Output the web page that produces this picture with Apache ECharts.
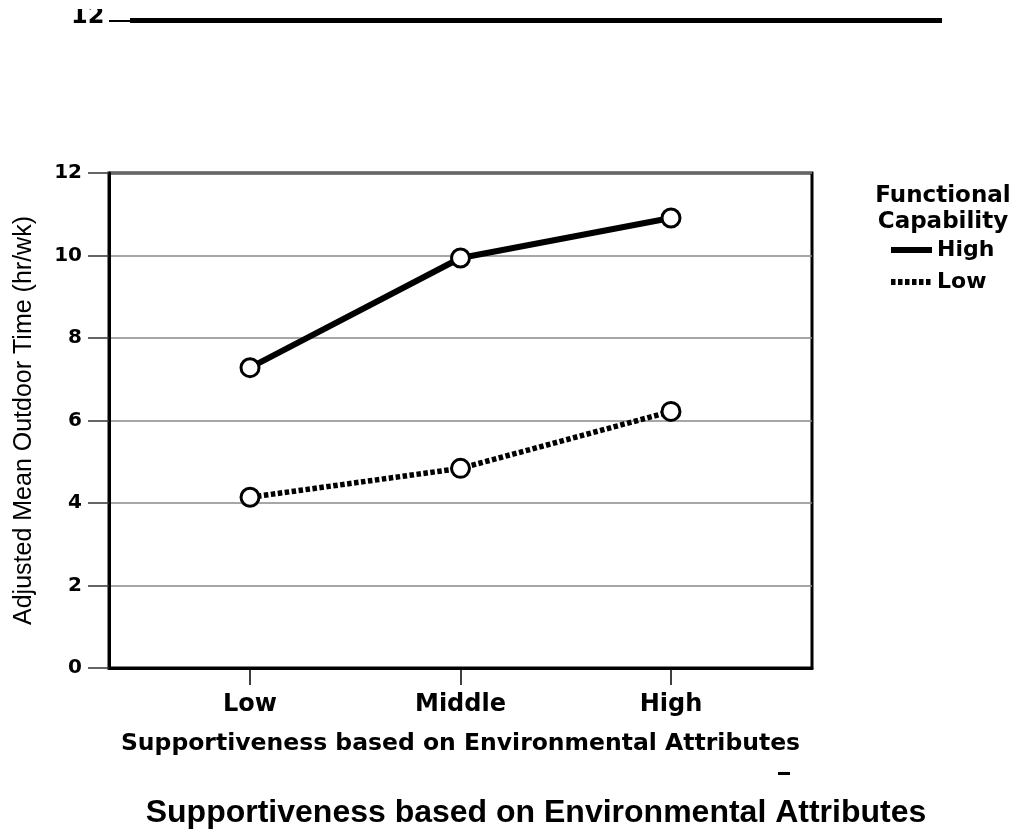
<!DOCTYPE html>
<html>
<head>
<meta charset="utf-8">
<script src="https://cdn.jsdelivr.net/npm/echarts@6/dist/echarts.min.js"></script>
<style>html,body{margin:0;padding:0;background:#fff;}#c{width:1016px;height:835px;}</style>
</head>
<body>
<div id="c"></div>
<script>
const categories = ['Low', 'Middle', 'High'];
const seriesNames = ['High', 'Low'];
const highValues = [7.28, 9.94, 10.91];
const lowValues = [4.14, 4.84, 6.22];
const yMin = 0, yMax = 12, yStep = 2;
const yAxisTitle = 'Adjusted Mean Outdoor Time (hr/wk)';
const xAxisTitle = 'Supportiveness based on Environmental Attributes';
const legendTitle = 'Functional\nCapability';
const bottomTitle = 'Supportiveness based on Environmental Attributes';
const topFragmentLabel = '12';

const ARIAL = 'Liberation Sans, Arial, sans-serif';
const WIDE = 'DejaVu Sans, Verdana, sans-serif';
const chart = echarts.init(document.getElementById('c'), null, {renderer: 'canvas'});
const catIdx = categories.map((c, i) => i);
const toPts = arr => arr.map((v, i) => [i, v]);
const markerStyle = {color: '#fff', borderColor: '#000', borderWidth: 3};

chart.setOption({
  backgroundColor: '#fff',
  animation: false,
  grid: {left: 109, right: 204, top: 173, bottom: 167, show: true, borderColor: '#000', borderWidth: 3, backgroundColor: 'transparent'},
  xAxis: {
    type: 'value', min: -0.67, max: 2.67,
    name: xAxisTitle, nameLocation: 'middle', nameGap: 64,
    nameTextStyle: {fontFamily: WIDE, fontSize: 23.5, fontWeight: 'bold', color: '#000'},
    axisLine: {show: true, onZero: false, lineStyle: {color: '#000', width: 3}},
    axisTick: {show: true, customValues: catIdx, length: 17, lineStyle: {color: '#000', width: 1.5}},
    axisLabel: {customValues: catIdx, formatter: v => categories[Math.round(v)] || '', margin: 25,
      fontFamily: WIDE, fontSize: 24, fontWeight: 'bold', color: '#000'},
    splitLine: {show: false}
  },
  yAxis: {
    type: 'value', min: yMin, max: yMax, interval: yStep,
    name: yAxisTitle, nameLocation: 'middle', nameGap: 72, nameRotate: 90,
    nameTextStyle: {fontFamily: ARIAL, fontSize: 25, color: '#000'},
    axisLine: {show: true, onZero: false, lineStyle: {color: '#000', width: 3}},
    axisTick: {show: true, length: 21, lineStyle: {color: '#333', width: 1.5}},
    axisLabel: {margin: 27, fontFamily: WIDE, fontSize: 20, fontWeight: 'bold', color: '#000'},
    splitLine: {show: true, lineStyle: {color: '#888', width: 1.5}}
  },
  legend: {
    orient: 'vertical', left: 888, top: 238, padding: 0,
    itemWidth: 41, itemHeight: 14, itemGap: 8,
    textStyle: {fontFamily: WIDE, fontSize: 22, fontWeight: 'bold', color: '#000', lineHeight: 24},
    itemStyle: {opacity: 0},
    lineStyle: {width: 6},
    data: seriesNames
  },
  series: [
    {name: seriesNames[0], type: 'line', data: toPts(highValues), symbol: 'circle', symbolSize: 18,
      itemStyle: markerStyle, lineStyle: {color: '#000', width: 6}, z: 3},
    {name: seriesNames[1], type: 'line', data: toPts(lowValues), symbol: 'circle', symbolSize: 18,
      itemStyle: markerStyle, lineStyle: {color: '#000', width: 5.5, type: [4.5, 2.5], cap: 'butt'}, z: 3}
  ],
  graphic: [
    {type: 'text', x: 943, y: 183, style: {text: legendTitle, fontFamily: WIDE, fontSize: 23, fontWeight: 'bold', fill: '#000', align: 'center', verticalAlign: 'top', lineHeight: 26}},
    {type: 'text', x: 536, y: 813, style: {text: bottomTitle, fontFamily: ARIAL, fontSize: 32, fontWeight: 'bold', fill: '#000', align: 'center', verticalAlign: 'middle'}},
    {type: 'text', x: 71, y: 29, style: {text: topFragmentLabel, fontFamily: WIDE, fontSize: 24, fontWeight: 'bold', fill: '#000', align: 'left', verticalAlign: 'bottom'}},
    {type: 'rect', left: 60, top: 0, shape: {width: 60, height: 9}, style: {fill: '#fff'}, z: 100},
    {type: 'rect', left: 109, top: 20, shape: {width: 22, height: 2}, style: {fill: '#000'}},
    {type: 'rect', left: 130, top: 18, shape: {width: 812, height: 5}, style: {fill: '#000'}},
    {type: 'rect', left: 778, top: 772, shape: {width: 12, height: 3}, style: {fill: '#000'}}
  ]
});
</script>
</body>
</html>
